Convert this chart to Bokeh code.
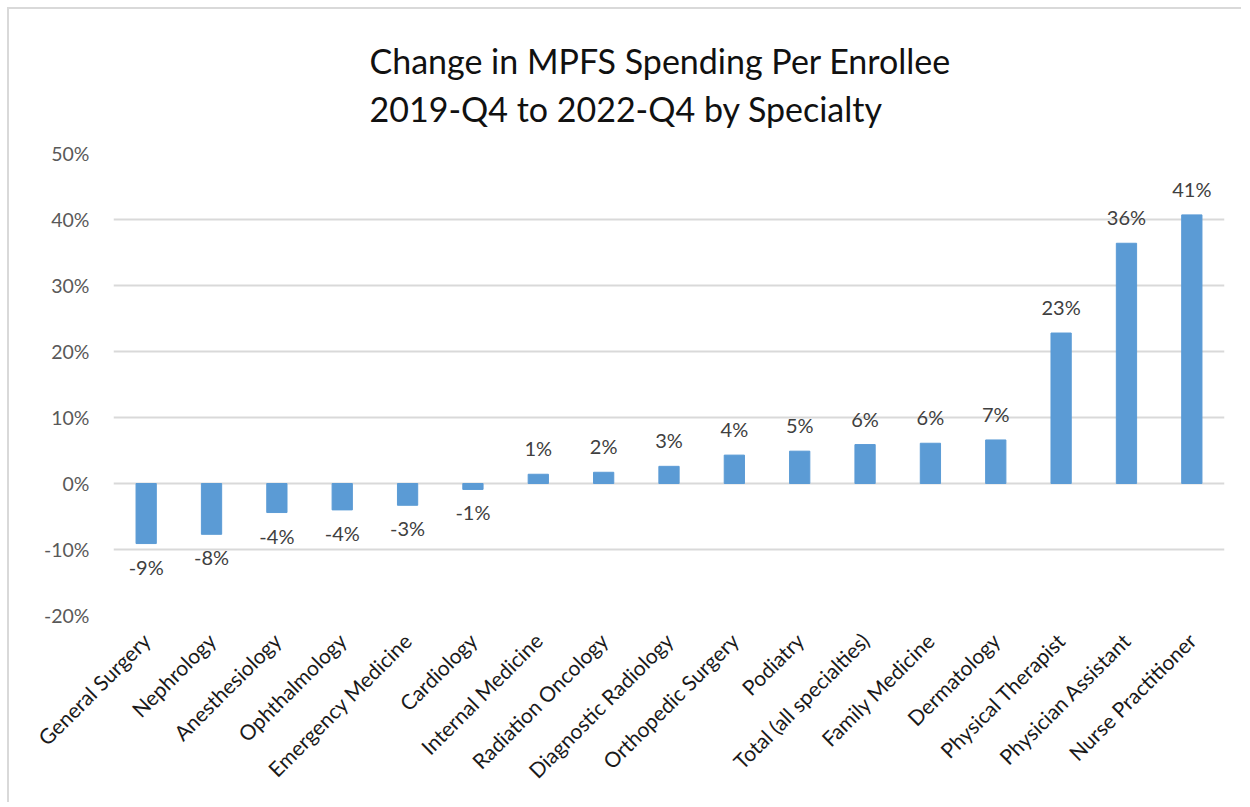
import math
from bokeh.plotting import figure
from bokeh.models import ColumnDataSource, Range1d, NumeralTickFormatter, Title, FixedTicker
from bokeh.core.properties import value
from bokeh.embed import file_html
from bokeh.resources import INLINE

specialties = ["General Surgery", "Nephrology", "Anesthesiology", "Ophthalmology",
               "Emergency Medicine", "Cardiology", "Internal Medicine", "Radiation Oncology",
               "Diagnostic Radiology", "Orthopedic Surgery", "Podiatry", "Total (all specialties)",
               "Family Medicine", "Dermatology", "Physical Therapist", "Physician Assistant",
               "Nurse Practitioner"]
change = [-0.091, -0.077, -0.044, -0.040, -0.033, -0.009, 0.014, 0.017, 0.026, 0.043,
          0.049, 0.059, 0.061, 0.066, 0.228, 0.364, 0.407]
y_ticks = [-0.2, -0.1, 0.0, 0.1, 0.2, 0.3, 0.4, 0.5]
title_lines = ["Change in MPFS Spending Per Enrollee", "2019-Q4 to 2022-Q4 by Specialty"]

FONT = "Lato"

labels = [f"{int(math.floor(abs(v) * 100 + 0.5)) * (1 if v >= 0 else -1)}%" for v in change]
baselines = ["alphabetic" if v >= 0 else "top" for v in change]
offsets = [-26 if v >= 0 else 11 for v in change]

src = ColumnDataSource(dict(x=specialties, top=change, label=labels,
                            baseline=baselines, yoff=offsets))

p = figure(x_range=specialties, width=1234, height=795, output_backend="svg",
           toolbar_location=None, min_border_left=104, min_border_right=19,
           min_border_top=144, min_border_bottom=189)
p.y_range = Range1d(-0.2, 0.5)

p.vbar(x="x", top="top", bottom=0, width=0.31, source=src,
       fill_color="#5B9BD5", line_color="#5B9BD5")

p.text(x="x", y="top", text="label", source=src, text_align="center",
       text_baseline="baseline", y_offset="yoff", text_font=value(FONT),
       text_font_size="20px", text_color="#404040")

title = Title(text="\n".join(title_lines), align="left", offset=249,
              text_font=FONT, text_font_size="34px", text_font_style="normal",
              text_color="#111111", text_line_height=1.19, standoff=34)
try:
    title.padding = 7
except Exception:
    pass
p.add_layout(title, "above")

p.yaxis.ticker = FixedTicker(ticks=y_ticks)
p.yaxis.formatter = NumeralTickFormatter(format="0%")
p.yaxis.axis_line_color = None
p.yaxis.major_tick_line_color = None
p.yaxis.minor_tick_line_color = None
p.yaxis.major_label_standoff = 18
p.yaxis.major_label_text_font = FONT
p.yaxis.major_label_text_font_size = "19.5px"
p.yaxis.major_label_text_color = "#595959"

p.xaxis.axis_line_color = None
p.xaxis.major_tick_line_color = None
p.xaxis.major_label_orientation = math.pi / 4
p.xaxis.major_label_standoff = 15
p.xaxis.major_label_text_font = FONT
p.xaxis.major_label_text_font_size = "21px"
p.xaxis.major_label_text_color = "#1a1a1a"

p.xgrid.grid_line_color = None
p.ygrid.ticker = FixedTicker(ticks=y_ticks)
p.ygrid.grid_line_color = "#d9d9d9"
p.ygrid.grid_line_width = 2

p.outline_line_color = None
p.background_fill_color = "white"
p.border_fill_color = "white"
p.styles = {"border-top": "2px solid #d9d9d9", "border-left": "2px solid #d9d9d9",
            "margin-left": "7px", "margin-top": "7px"}

open("out.html", "w").write(file_html(p, INLINE))
